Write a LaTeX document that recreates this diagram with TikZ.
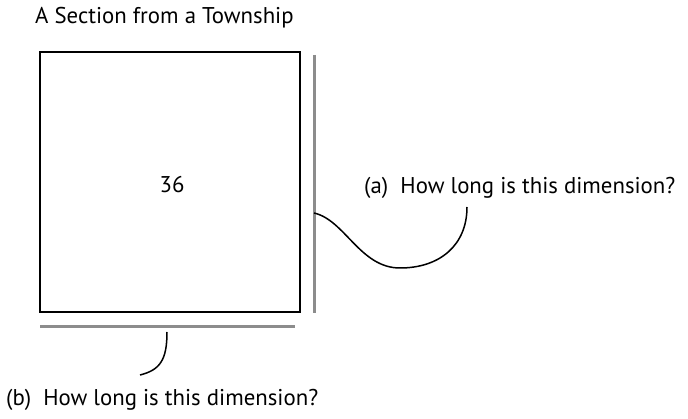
\documentclass[tikz,border=0pt]{standalone}
\usepackage{fontspec}
\setmainfont{PT Sans}
\usepackage{tikz}
\usetikzlibrary{positioning}
\tikzset{
	lbl/.style = {inner sep=0pt, anchor=west, font=\fontsize{22.8}{26}\selectfont},
	dimline/.style = {draw=gray!90, line width=3pt},
	lead/.style = {draw=black, line width=1.5pt}
}

\begin{document}
\begin{tikzpicture}[x=1pt, y=-1pt]
		\useasboundingbox (0,0) rectangle (688,419);
		\node[lbl] (title) at (35,18) {A Section from a Township};
		\draw[black, line width=1.6pt] (40,52) rectangle (300,312);
		\node[lbl, anchor=center] (num) at (172,185) {36};
		% dimension lines
		\coordinate (vt) at (314,55);
		\coordinate (vb) at (314,313);
		\draw[dimline] (vt) -- (vb);
		\coordinate (hl) at (40,327);
		\coordinate (hr) at (295,327);
		\draw[dimline] (hl) -- (hr);
		% labels and leaders
		\node[lbl] (qa) at (364,188) {(a)\ \ How long is this dimension?};
		\node[lbl] (qb) at (6,400) {(b)\ \ How long is this dimension?};
		\coordinate (sa) at (314,213);
		\coordinate (ea) at (467,207);
		\draw[lead] (sa) .. controls (345,220) and (360,268) .. (400,268)
			.. controls (440,268) and (467,245) .. (ea);
		\coordinate (sb) at (167,332);
		\coordinate (eb) at (140,375);
		\draw[lead] (sb) .. controls (167,360) and (160,370) .. (eb);
	\end{tikzpicture}
\end{document}
